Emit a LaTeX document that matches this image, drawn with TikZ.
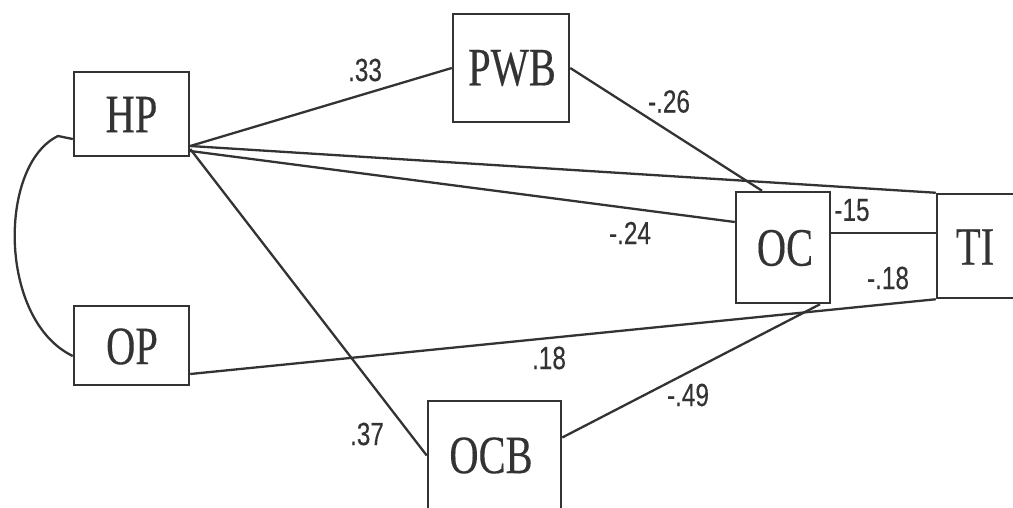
\documentclass[tikz,border=0pt]{standalone}
\usepackage{fontspec}
\setmainfont{Liberation Serif}[FakeBold=0.3]
\newfontfamily\numfont{Liberation Sans}[FakeBold=0.3]
\usetikzlibrary{calc}
\definecolor{ink}{HTML}{333333}
\tikzset{
  box/.style={draw=ink, line width=2.5pt, rectangle, inner sep=0pt, fill=none},
  boxlabel/.style={text=ink, inner sep=0pt, font=\fontsize{54}{54}\selectfont},
  coef/.style={text=ink, inner sep=0pt, font=\numfont\fontsize{32}{32}\selectfont},
  path/.style={draw=ink, line width=2.3pt}
}
\newcommand{\sq}[1]{\scalebox{0.75}[1]{#1}}
\newcommand{\sn}[1]{\scalebox{0.76}[1]{#1}}
\begin{document}
\begin{tikzpicture}[x=1pt,y=-1pt]
\useasboundingbox (0,0) rectangle (1013,507);
\clip (0,0) rectangle (1013,507);
% boxes
\node[box, minimum width=115pt, minimum height=84pt] (HP) at (131.5,114) {};
\node[box, minimum width=116pt, minimum height=108pt] (PWB) at (511,68) {};
\node[box, minimum width=94pt, minimum height=111pt] (OC) at (783,247.5) {};
\node[box, minimum width=103pt, minimum height=104pt] (TI) at (988.5,246) {};
\node[box, minimum width=115pt, minimum height=79pt] (OP) at (131.5,345.5) {};
\node[box, minimum width=133pt, minimum height=139pt] (OCB) at (494.5,470.5) {};
% box labels
\node[boxlabel] (tHP) at (131.5,114.5) {\sq{HP}};
\node[boxlabel] (tPWB) at (512,68) {\sq{PWB}};
\node[boxlabel] (tOC) at (785,248) {\sq{OC}};
\node[boxlabel] (tTI) at (975,247) {\sq{TI}};
\node[boxlabel] (tOP) at (132,346.5) {\sq{OP}};
\node[boxlabel] (tOCB) at (491,455.5) {\sq{OCB}};
% connectors
\draw[path] ([yshift=-32pt]HP.east) -- (PWB.west);
\draw[path] ([yshift=-32pt]HP.east) -- (TI.north west);
\draw[path] ([yshift=-37pt]HP.east) -- ([yshift=25.5pt]OC.west);
\draw[path] ([yshift=-35pt]HP.east) -- ([yshift=15pt]OCB.west);
\draw[path] (PWB.east) -- ([xshift=-21pt]OC.north);
\draw[path] ([yshift=14.5pt]OC.east) -- ([yshift=14.5pt]OC.east -| TI.west);
\draw[path] ([yshift=-28.5pt]OP.east) -- (TI.south west);
\draw[path] ([yshift=33pt]OCB.east) -- ([xshift=37pt]OC.south);
\coordinate (bend) at (58,136);
\draw[path] ([yshift=-25pt]HP.west) -- (bend) .. controls (-2,165) and (-2,320) .. ([yshift=-10.5pt]OP.west);
% coefficients
\node[coef] (c1) at (365,70) {\sn{.33}};
\node[coef] (c2) at (669,101.5) {\sn{-.26}};
\node[coef] (c3) at (630,233) {\sn{-.24}};
\node[coef] (c4) at (852,210) {\sn{-15}};
\node[coef] (c5) at (888,278) {\sn{-.18}};
\node[coef] (c6) at (549,358) {\sn{.18}};
\node[coef] (c7) at (688,395) {\sn{-.49}};
\node[coef] (c8) at (367,434) {\sn{.37}};
\end{tikzpicture}
\end{document}
